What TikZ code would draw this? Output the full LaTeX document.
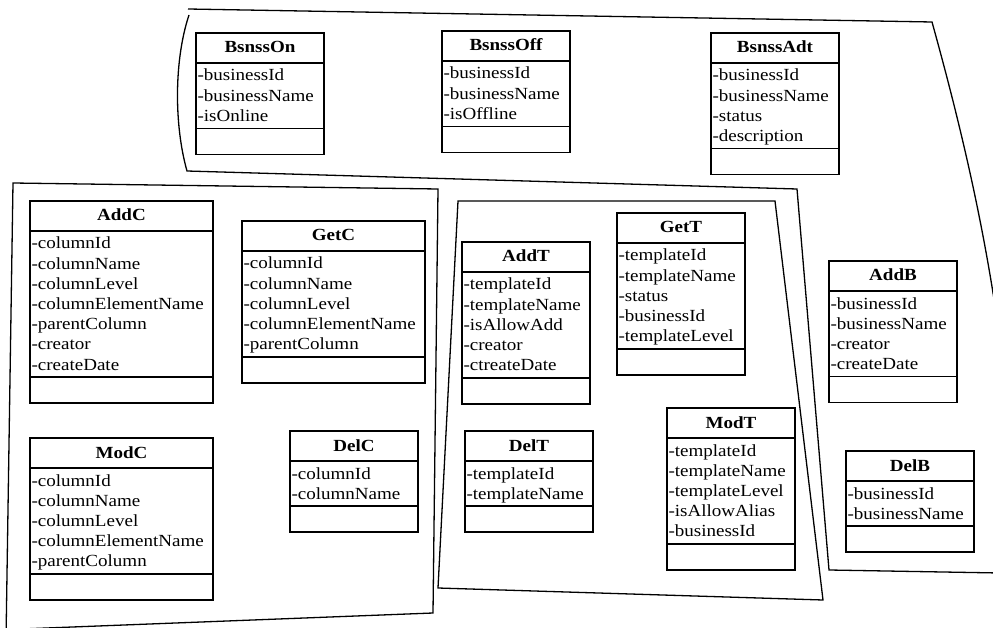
\documentclass[tikz,border=0pt]{standalone}
\usepackage{fontspec}
\setmainfont[FakeStretch=1.12]{Liberation Serif}
\newcommand{\fld}{\rule[-4.6pt]{0pt}{20.2pt}}

\begin{document}
\begin{tikzpicture}[x=1pt, y=-1pt,
  region/.style={line width=1.3pt, line join=miter},
  classname/.style={draw, line width=1.5pt, outer sep=0pt, anchor=north west, minimum width=128pt, minimum height=30pt, text height=12pt, text depth=2pt, font=\fontsize{17}{20.2}\selectfont\bfseries},
  classfields/.style={draw, line width=1.5pt, outer sep=0pt, anchor=north west, text width=125pt, align=left, inner xsep=1.5pt, inner ysep=2.4pt, font=\fontsize{17}{20.2}\selectfont},
  classops/.style={draw, line width=1.5pt, outer sep=0pt, anchor=north west, minimum width=128pt, minimum height=26pt, inner sep=0pt},
  widebox/.style={minimum width=183pt}]
\useasboundingbox (0,0) rectangle (993,628);
\clip (0,0) rectangle (993,628);

\draw[region] (189,15) .. controls (174,60) and (174,125) .. (187,171) -- (797,189) -- (829,570) -- (1000,573);
\draw[region] (188,9) -- (932,22) .. controls (962,130) and (985,230) .. (1000,340);
\draw[region] (6,640) -- (13,183) -- (438,189) -- (433,613) -- (-5,630);
\draw[region] (458,201) -- (775,201) -- (823,600) -- (438,588) -- cycle;

\node[classname] (bsnsson) at (196,33) {BsnssOn};
\node[classfields] (bsnsson-f) at (bsnsson.south west) {\fld-businessId\\\fld-businessName\\\fld-isOnline};
\node[classops] (bsnsson-o) at (bsnsson-f.south west) {};

\node[classname] (bsnssoff) at (442,31) {BsnssOff};
\node[classfields] (bsnssoff-f) at (bsnssoff.south west) {\fld-businessId\\\fld-businessName\\\fld-isOffline};
\node[classops] (bsnssoff-o) at (bsnssoff-f.south west) {};

\node[classname] (bsnssadt) at (711,33) {BsnssAdt};
\node[classfields] (bsnssadt-f) at (bsnssadt.south west) {\fld-businessId\\\fld-businessName\\\fld-status\\\fld-description};
\node[classops] (bsnssadt-o) at (bsnssadt-f.south west) {};

\node[classname, widebox] (addc) at (30,201) {AddC};
\node[classfields, text width=180pt] (addc-f) at (addc.south west) {\fld-columnId\\\fld-columnName\\\fld-columnLevel\\\fld-columnElementName\\\fld-parentColumn\\\fld-creator\\\fld-createDate};
\node[classops, widebox] (addc-o) at (addc-f.south west) {};

\node[classname, widebox] (getc) at (242,221) {GetC};
\node[classfields, text width=180pt] (getc-f) at (getc.south west) {\fld-columnId\\\fld-columnName\\\fld-columnLevel\\\fld-columnElementName\\\fld-parentColumn};
\node[classops, widebox] (getc-o) at (getc-f.south west) {};

\node[classname, widebox] (modc) at (30,438) {ModC};
\node[classfields, text width=180pt] (modc-f) at (modc.south west) {\fld-columnId\\\fld-columnName\\\fld-columnLevel\\\fld-columnElementName\\\fld-parentColumn};
\node[classops, widebox] (modc-o) at (modc-f.south west) {};

\node[classname] (delc) at (290,431) {DelC};
\node[classfields] (delc-f) at (delc.south west) {\fld-columnId\\\fld-columnName};
\node[classops] (delc-o) at (delc-f.south west) {};

\node[classname] (addt) at (462,242) {AddT};
\node[classfields] (addt-f) at (addt.south west) {\fld-templateId\\\fld-templateName\\\fld-isAllowAdd\\\fld-creator\\\fld-ctreateDate};
\node[classops] (addt-o) at (addt-f.south west) {};

\node[classname] (gett) at (617,213) {GetT};
\node[classfields] (gett-f) at (gett.south west) {\fld-templateId\\\fld-templateName\\\fld-status\\\fld-businessId\\\fld-templateLevel};
\node[classops] (gett-o) at (gett-f.south west) {};

\node[classname] (delt) at (465,431) {DelT};
\node[classfields] (delt-f) at (delt.south west) {\fld-templateId\\\fld-templateName};
\node[classops] (delt-o) at (delt-f.south west) {};

\node[classname] (modt) at (667,408) {ModT};
\node[classfields] (modt-f) at (modt.south west) {\fld-templateId\\\fld-templateName\\\fld-templateLevel\\\fld-isAllowAlias\\\fld-businessId};
\node[classops] (modt-o) at (modt-f.south west) {};

\node[classname] (addb) at (829,261) {AddB};
\node[classfields] (addb-f) at (addb.south west) {\fld-businessId\\\fld-businessName\\\fld-creator\\\fld-createDate};
\node[classops] (addb-o) at (addb-f.south west) {};

\node[classname] (delb) at (846,451) {DelB};
\node[classfields] (delb-f) at (delb.south west) {\fld-businessId\\\fld-businessName};
\node[classops] (delb-o) at (delb-f.south west) {};
\end{tikzpicture}
\end{document}
